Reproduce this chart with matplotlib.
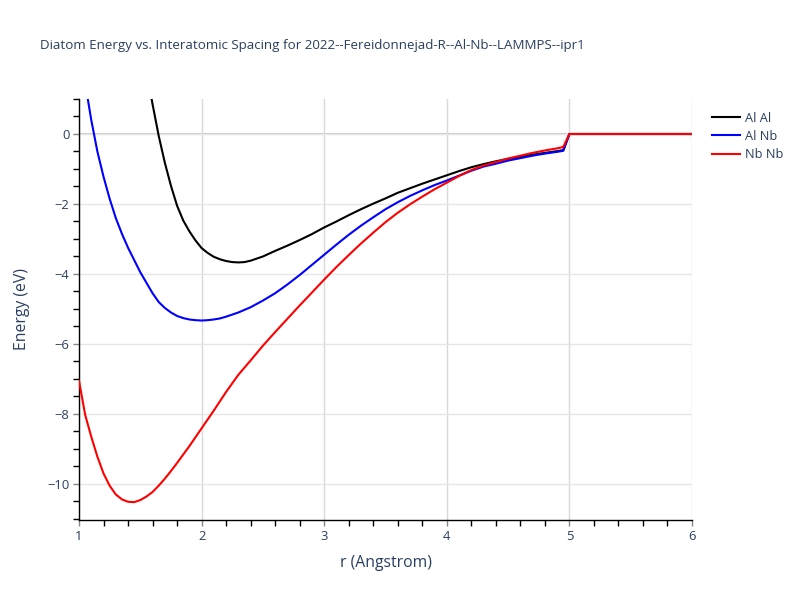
import numpy as np
import matplotlib
matplotlib.use("Agg")
from matplotlib import pyplot as plt
from matplotlib.ticker import MultipleLocator

# values
r_alal = [1.58, 1.60, 1.65, 1.70, 1.75, 1.80, 1.85, 1.90, 1.95, 2.00, 2.05, 2.10, 2.15, 2.20,
          2.25, 2.30, 2.35, 2.40, 2.50, 2.60, 2.70, 2.80, 2.90, 3.00, 3.10, 3.20, 3.30, 3.40,
          3.50, 3.60, 3.70, 3.80, 3.90, 4.00, 4.10, 4.20, 4.30, 4.40, 4.50, 4.60, 4.70, 4.80,
          4.90, 4.95, 5.00, 6.00]
e_alal = [1.25, 0.85, -0.05, -0.82, -1.48, -2.05, -2.47, -2.78, -3.04, -3.26, -3.40, -3.51, -3.58, -3.63,
          -3.66, -3.67, -3.66, -3.62, -3.50, -3.34, -3.19, -3.03, -2.86, -2.67, -2.50, -2.32, -2.15, -1.99,
          -1.84, -1.68, -1.55, -1.42, -1.30, -1.18, -1.06, -0.95, -0.86, -0.78, -0.71, -0.65, -0.59, -0.54,
          -0.49, -0.46, 0.0, 0.0]

r_alnb = [1.06, 1.10, 1.15, 1.20, 1.25, 1.30, 1.35, 1.40, 1.45, 1.50, 1.55, 1.60, 1.65, 1.70, 1.75,
          1.80, 1.85, 1.90, 1.95, 2.00, 2.05, 2.10, 2.15, 2.20, 2.25, 2.30, 2.40, 2.50, 2.60, 2.70,
          2.80, 2.90, 3.00, 3.10, 3.20, 3.30, 3.40, 3.50, 3.60, 3.70, 3.80, 3.90, 4.00, 4.10, 4.20,
          4.30, 4.40, 4.50, 4.60, 4.70, 4.80, 4.90, 4.95, 5.00, 6.00]
e_alnb = [1.25, 0.40, -0.50, -1.22, -1.85, -2.40, -2.85, -3.25, -3.60, -3.95, -4.25, -4.55, -4.80, -4.97, -5.10,
          -5.20, -5.26, -5.30, -5.32, -5.33, -5.32, -5.30, -5.27, -5.22, -5.16, -5.10, -4.95, -4.76, -4.55, -4.30,
          -4.03, -3.74, -3.45, -3.16, -2.88, -2.62, -2.38, -2.15, -1.95, -1.77, -1.61, -1.46, -1.33, -1.19, -1.05,
          -0.93, -0.85, -0.76, -0.69, -0.62, -0.56, -0.51, -0.48, 0.0, 0.0]

r_nbnb = [1.00, 1.05, 1.10, 1.15, 1.20, 1.25, 1.30, 1.35, 1.40, 1.45, 1.50, 1.55, 1.60, 1.65, 1.70,
          1.75, 1.80, 1.90, 2.00, 2.10, 2.20, 2.30, 2.40, 2.50, 2.60, 2.70, 2.80, 2.90, 3.00, 3.10,
          3.20, 3.30, 3.40, 3.50, 3.60, 3.70, 3.80, 3.90, 4.00, 4.10, 4.20, 4.30, 4.40, 4.50, 4.60,
          4.70, 4.80, 4.90, 4.95, 5.00, 6.00]
e_nbnb = [-7.05, -8.02, -8.65, -9.22, -9.70, -10.05, -10.30, -10.44, -10.51, -10.52, -10.46, -10.36, -10.23, -10.05, -9.85,
          -9.63, -9.40, -8.92, -8.41, -7.90, -7.37, -6.88, -6.47, -6.05, -5.66, -5.28, -4.90, -4.53, -4.16, -3.80,
          -3.46, -3.13, -2.82, -2.52, -2.25, -2.01, -1.79, -1.58, -1.39, -1.20, -1.03, -0.90, -0.80, -0.70, -0.62,
          -0.54, -0.47, -0.41, -0.37, 0.0, 0.0]

series = [("Al Al", r_alal, e_alal, "black"),
          ("Al Nb", r_alnb, e_alnb, "blue"),
          ("Nb Nb", r_nbnb, e_nbnb, "red")]

title = "Diatom Energy vs. Interatomic Spacing for 2022--Fereidonnejad-R--Al-Nb--LAMMPS--ipr1"
txt = "#2a3f5f"

plt.rcParams['font.family'] = ['Open Sans', 'DejaVu Sans']

fig = plt.figure(figsize=(8, 6), dpi=100)
ax = fig.add_axes([79/800, 80/600, 613/800, 421/600])

for name, r, e, c in series:
    ax.plot(r, e, color=c, lw=1.5, label=name, zorder=3, solid_joinstyle='round')

ax.set_xlim(1, 6)
ax.set_ylim(-11.03, 1.0)
ax.xaxis.set_major_locator(MultipleLocator(1))
ax.xaxis.set_minor_locator(MultipleLocator(0.2))
ax.yaxis.set_major_locator(MultipleLocator(2))
ax.yaxis.set_minor_locator(MultipleLocator(0.5))

ax.grid(axis='y', which='major', color='#e6e6e6', lw=1, zorder=0)
ax.grid(axis='x', which='major', color='#d9d9d9', lw=1, zorder=0)
ax.axhline(0, color='#cccccc', lw=1.5, zorder=1)

for s in ['top', 'right']:
    ax.spines[s].set_visible(False)
for s in ['left', 'bottom']:
    ax.spines[s].set_color('black')
    ax.spines[s].set_linewidth(1)

ax.tick_params(which='major', direction='out', length=4, width=1, color='#888888',
               labelsize=9.4, labelcolor=txt, pad=3)
ax.tick_params(which='minor', direction='out', length=4, width=1, color='black')

ax.set_xlabel("r (Angstrom)", fontsize=11.3, color=txt, labelpad=9)
ax.set_ylabel("Energy (eV)", fontsize=11.3, color=txt, labelpad=12)

fig.text(40/800, 1 - 46/600, title, fontsize=9.6, color=txt, va='center', ha='left')

fig.legend(loc='upper left', bbox_to_anchor=(700/800, 1 - 100/600), frameon=False,
           fontsize=9.2, labelcolor=txt, handlelength=2.2, handletextpad=0.4, labelspacing=0.42)

fig.savefig("out.png", dpi=100)
